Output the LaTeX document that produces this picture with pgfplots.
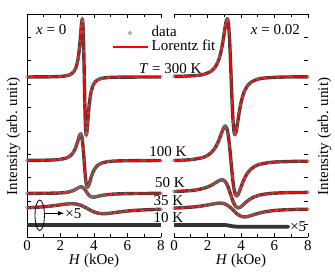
\documentclass[border=0pt]{standalone}
\usepackage{fontspec}
\setmainfont{Liberation Serif}
\usepackage{pgfplots}
\pgfplotsset{compat=1.18}
\usepackage{pgfplotstable}
\usetikzlibrary{arrows.meta}

% ---------- x = 0 ----------
\pgfplotstableread{
H y
0 160.0
0.30 160.05
1.34 160.18
1.964 160.5
2.38 161.32
2.588 162.47
2.796 165.36
2.90 168.50
3.004 174.29
3.066 180.06
3.129 188.54
3.170 195.99
3.212 204.65
3.243 211.16
3.274 216.31
3.300 218.0
3.326 215.58
3.358 205.10
3.389 185.62
3.42 160
3.451 134.38
3.482 114.90
3.514 104.42
3.540 102.0
3.566 103.69
3.597 108.84
3.628 115.35
3.670 124.01
3.711 131.46
3.774 139.94
3.836 145.71
3.94 151.50
4.044 154.64
4.252 157.53
4.46 158.68
4.876 159.5
5.50 159.82
6.54 159.95
8 160.0
}\tabLa
\pgfplotstableread{
H y
0 76.59
0.925 76.73
1.635 77.11
1.99 77.64
2.345 78.97
2.5225 80.41
2.70 83.08
2.8065 85.74
2.913 89.64
2.984 93.07
3.055 97.05
3.108 100.05
3.1615 102.42
3.205 103.2
3.250 102.09
3.3035 97.26
3.357 88.30
3.41 76.5
3.463 64.70
3.5165 55.74
3.570 50.91
3.615 49.8
3.6585 50.58
3.712 52.95
3.765 55.95
3.836 59.93
3.907 63.36
4.0135 67.26
4.12 69.92
4.2975 72.59
4.475 74.03
4.83 75.36
5.185 75.89
5.895 76.27
6.96 76.42
8 76.46
}\tabLb
\pgfplotstableread{
H y
0 43.68
0.44 43.68
1.046 43.72
1.652 43.86
1.955 44.04
2.258 44.44
2.440 44.89
2.622 45.63
2.743 46.36
2.864 47.32
2.955 48.17
3.046 49.06
3.120 49.70
3.197 50.12
3.288 50.01
3.379 49.02
3.47 47.17
3.561 44.87
3.652 42.70
3.743 41.11
3.820 40.30
3.894 39.93
3.985 39.88
4.076 40.08
4.197 40.53
4.318 41.01
4.500 41.64
4.682 42.13
4.985 42.66
5.288 42.99
5.894 43.32
6.50 43.47
8 43.61
}\tabLc
\pgfplotstableread{
H y
0 29.29
0.34 29.53
0.832 30.03
1.324 30.76
1.652 31.40
1.98 32.15
2.226 32.71
2.472 33.15
2.674 33.30
2.882 33.09
3.128 32.19
3.374 30.51
3.62 28.3
3.866 26.09
4.112 24.41
4.358 23.51
4.566 23.30
4.768 23.45
5.014 23.89
5.26 24.45
5.588 25.20
5.916 25.84
6.408 26.57
6.90 27.07
7.72 27.57
8 27.68
}\tabLd
\pgfplotstableread{
H y
0 12
0.5 12
1 12
1.5 12
2 12
2.5 12
3 12
3.5 12
4 12
4.5 12
5 12
5.5 12
6 12
6.5 12
7 12
7.5 12
8 12
}\tabLe

% ---------- x = 0.02 ----------
\pgfplotstableread{
H y
0 160.58
0.61 160.8
1.41 161.62
1.81 162.77
2.21 165.66
2.41 168.80
2.61 174.59
2.73 180.36
2.85 188.84
2.93 196.29
3.01 204.95
3.07 211.46
3.13 216.61
3.179 218.3
3.23 215.88
3.29 205.40
3.35 185.92
3.41 160.3
3.47 134.68
3.53 115.20
3.59 104.72
3.641 102.3
3.69 103.99
3.75 109.14
3.81 115.65
3.89 124.31
3.97 131.76
4.09 140.24
4.21 146.01
4.41 151.80
4.61 154.94
5.01 157.83
5.41 158.98
6.21 159.8
7.0 160.06
8 160.18
}\tabRa
\pgfplotstableread{
H y
0 76.51
0.50 76.80
1.08 77.49
1.66 79.23
1.95 81.13
2.24 84.62
2.414 88.11
2.588 93.22
2.704 97.72
2.82 102.94
2.907 106.87
2.994 109.98
3.065 111.0
3.139 109.54
3.226 103.21
3.313 91.46
3.40 76
3.487 60.54
3.574 48.79
3.661 42.46
3.735 41.0
3.806 42.02
3.893 45.13
3.98 49.06
4.096 54.28
4.212 58.78
4.386 63.89
4.56 67.38
4.85 70.87
5.14 72.77
5.72 74.51
6.30 75.20
7.46 75.70
8 75.79
}\tabRb
\pgfplotstableread{
H y
0 45.45
0.10 45.50
0.93 46.31
1.345 47.14
1.76 48.60
2.009 50.00
2.258 51.96
2.424 53.60
2.59 55.36
2.7145 56.53
2.839 57.21
2.941 57.01
3.0465 55.71
3.171 52.33
3.2955 46.99
3.42 40.60
3.5445 34.75
3.669 30.79
3.7935 29.17
3.899 29.31
4.001 30.31
4.1255 32.10
4.25 34.04
4.416 36.41
4.582 38.34
4.831 40.42
5.08 41.78
5.495 43.08
5.91 43.75
6.74 44.32
8 44.58
}\tabRc
\pgfplotstableread{
H y
0 28.90
0.495 29.25
1.12 29.97
1.495 30.65
1.87 31.59
2.12 32.36
2.37 33.16
2.5575 33.66
2.745 33.89
2.899 33.70
3.0575 32.95
3.245 31.16
3.4325 28.46
3.62 25.33
3.8075 22.54
3.995 20.75
4.1825 20.11
4.341 20.30
4.495 20.88
4.6825 21.84
4.87 22.84
5.12 24.04
5.37 25.00
5.745 26.02
6.12 26.67
6.745 27.29
7.37 27.60
8 27.76
}\tabRd
\pgfplotstableread{
H y
0 12
0.5 12
1 12
1.5 12
2 12
2.5 12
3 12
3.2 11.7
3.4 11.0
3.6 10.5
3.8 10.3
4.3 10.3
4.8 10.3
5.3 10.3
5.8 10.3
6.3 10.3
6.82 10.3
}\tabRe

\pgfplotsset{
  panel/.style={
    width=134pt, height=223pt, scale only axis,
    xmin=0, xmax=8, ymin=0, ymax=223,
    xtick={0,2,4,6,8}, minor xtick={1,3,5,7},
    ytick={12.4,35.8,59.2,82.6,106,129.4,152.8,176.2,199.6},
    yticklabels={},
    tick align=inside,
    major tick length=4pt, minor tick length=3pt,
    every major tick/.append style={line width=0.8pt, black},
    every minor tick/.append style={line width=0.8pt, black},
    separate axis lines,
    y axis line style={draw=none},
    x axis line style={line width=0.9pt},
    xlabel={\textit{H} (kOe)},
    xlabel style={yshift=6pt},
    xticklabel style={yshift=2pt},
    /pgf/number format/assume math mode=true,
  },
  band/.style={black!75, line width=3.4pt, smooth, line join=round, line cap=round, forget plot},
  dots/.style={only marks, mark=o, mark size=1.4pt, black!55, mark options={line width=0.5pt}, forget plot},
  fit/.style={red, line width=1.7pt, smooth, forget plot},
}
\newcommand{\curve}[1]{%
  \addplot[band] table[x=H,y=y] {#1};
  \addplot[dots] table[x=H,y=y] {#1};
  \addplot[fit] table[x=H,y=y] {#1};
}
\newcommand{\datonly}[1]{%
  \addplot[band, black!80, line width=3.8pt] table[x=H,y=y] {#1};
}

\begin{document}
\fontsize{15}{17}\selectfont
\begin{tikzpicture}
\path[use as bounding box] (0pt,0pt) rectangle (335pt,275pt);

\begin{axis}[panel, at={(27pt,38pt)}, anchor=south west, ytick pos=left,
  legend style={at={(0.632,0.945)}, anchor=north west, draw=none, fill=none,
    inner sep=0pt, row sep=1pt, column sep=3.5pt,
    nodes={inner sep=0pt, text height=10pt, text depth=3pt}},
  legend cell align=left]
  \draw[line width=0.9pt] (rel axis cs:0,0) -- (rel axis cs:0,1);
  \addlegendimage{legend image code/.code={\draw[black!60, line width=0.5pt] (17.5pt,0pt) circle (1.5pt);}}
  \addlegendentry{data}
  \addlegendimage{legend image code/.code={\draw[red, line width=1.3pt] (0pt,0pt) -- (35pt,0pt);}}
  \addlegendentry{Lorentz fit}
  \datonly{\tabLe}
  \curve{\tabLd}
  \curve{\tabLc}
  \curve{\tabLb}
  \curve{\tabLa}
  \draw[line width=0.8pt] (axis cs:0.76,21.7) ellipse (4.7pt and 15.3pt);
  \draw[line width=0.8pt, -{Latex[length=6pt,width=4.5pt]}] (axis cs:1.04,23.7) -- (axis cs:2.22,23.7);
  \node[anchor=west, inner sep=0pt] at (axis cs:2.28,23.2) {×5};
\end{axis}

\begin{axis}[panel, at={(174pt,38pt)}, anchor=south west, ytick pos=right]
  \draw[line width=0.9pt] (rel axis cs:1,0) -- (rel axis cs:1,1);
  \datonly{\tabRe}
  \curve{\tabRd}
  \curve{\tabRc}
  \curve{\tabRb}
  \curve{\tabRa}
  \node[anchor=west, inner sep=0pt] at (axis cs:6.93,10.5) {×5};
\end{axis}

\node[anchor=base west, inner sep=0pt] at (36pt,240pt) {\textit{x} = 0};
\node[anchor=base east, inner sep=0pt] at (300pt,240pt) {\textit{x} = 0.02};
\node[anchor=base east, inner sep=0pt] at (201.7pt,201.7pt) {\textit{T} = 300 K};
\node[anchor=base east, inner sep=0pt] at (186.7pt,118.3pt) {100 K};
\node[anchor=base east, inner sep=0pt] at (185pt,87pt) {50 K};
\node[anchor=base east, inner sep=0pt] at (183.5pt,69pt) {35 K};
\node[anchor=base east, inner sep=0pt] at (183.5pt,52.5pt) {10 K};
\node[rotate=90] at (13.5pt,138.5pt) {Intensity (arb. unit)};
\node[rotate=90] at (324.5pt,138.5pt) {Intensity (arb. unit)};
\end{tikzpicture}
\end{document}
